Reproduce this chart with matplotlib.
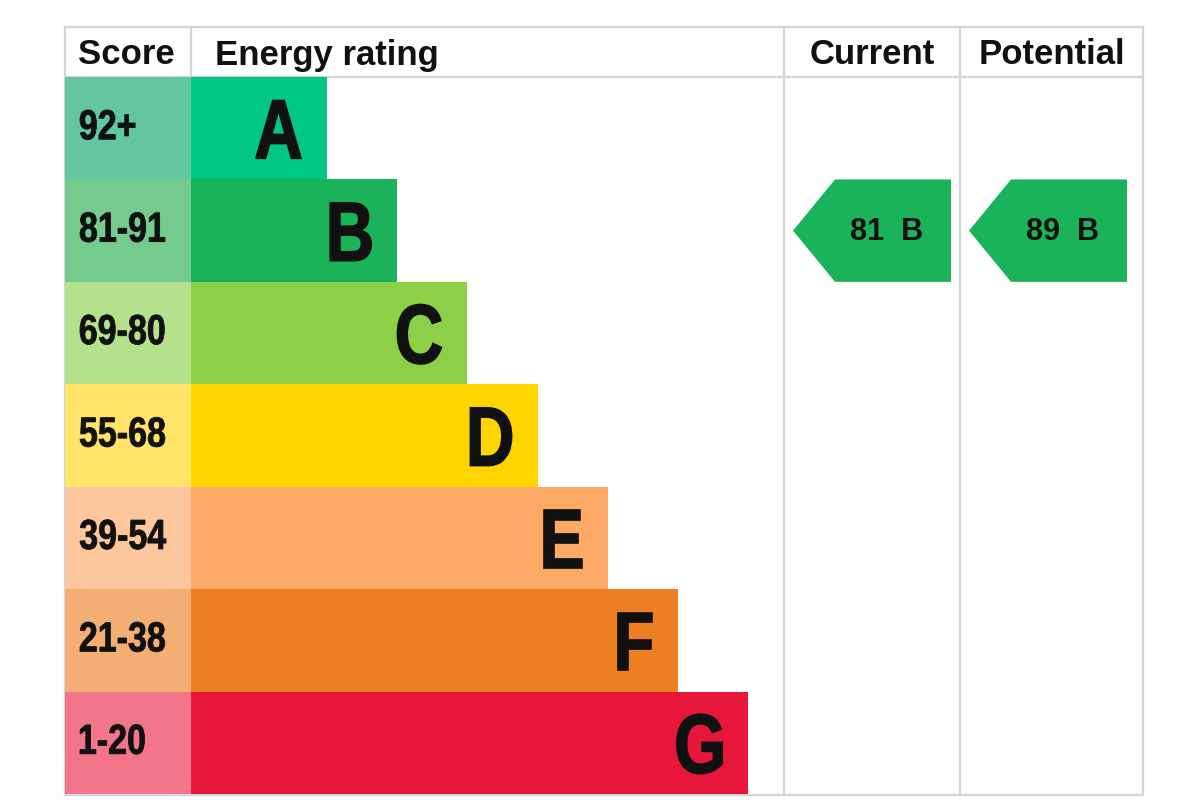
import matplotlib
matplotlib.use("Agg")
import matplotlib.pyplot as plt
from matplotlib.patches import Polygon, PathPatch
from matplotlib.textpath import TextPath
from matplotlib.font_manager import FontProperties
from matplotlib.transforms import Affine2D

# ---- data ----
bands = ["A", "B", "C", "D", "E", "F", "G"]
score_labels = ["92+", "81-91", "69-80", "55-68", "39-54", "21-38", "1-20"]
band_min = [92, 81, 69, 55, 39, 21, 1]
bar_colors = ["#00C781", "#1BB35A", "#8ECF48", "#FFD500", "#FCAA65", "#EE8023", "#E9163B"]
score_colors = ["#63C6A1", "#74CB8D", "#B5E08C", "#FFE467", "#FEC69C", "#F3AE74", "#F3758A"]
headers = ["Score", "Energy rating", "Current", "Potential"]
current_score = 81
potential_score = 89

# ---- layout (pixel coordinates) ----
W, H = 1200, 800
left_x, score_w = 65, 126
bar_x0 = left_x + score_w
bar_min_w, bar_step = 136, 70.2
cur_x0, pot_x0, right_x = 784, 960, 1143
top_y, head_y, bot_y = 27, 77, 794
row_h = (bot_y - head_y) / len(bands)
grid_c = "#D3D5D8"
txt_c = "#111111"

fig = plt.figure(figsize=(W / 100, H / 100), dpi=100)
ax = fig.add_axes([0, 0, 1, 1])
ax.set_xlim(0, W)
ax.set_ylim(H, 0)
ax.axis("off")

BOLD = FontProperties(family="Liberation Sans", weight="bold")


def ptext(x, yc, s, em, sx, ha="left", stroke=0.0):
    """Draw condensed text as a path; yc = vertical centre of cap height."""
    tp = TextPath((0, 0), s, size=em, prop=BOLD)
    ext = tp.get_extents()
    if ha == "left":
        dx = x - ext.x0 * sx
    elif ha == "right":
        dx = x - ext.x1 * sx
    else:
        dx = x - (ext.x0 + ext.x1) / 2 * sx
    base = yc + 0.716 * em / 2
    tr = Affine2D().scale(sx, -1).translate(dx, base)
    ax.add_patch(PathPatch(tr.transform_path(tp), facecolor=txt_c,
                           edgecolor=txt_c if stroke > 0 else "none",
                           linewidth=stroke, zorder=3))


centers = [head_y + row_h * (i + 0.5) for i in range(len(bands))]
bar_w = [bar_min_w + bar_step * i for i in range(len(bands))]

# grid lines
lw = 1.6
ax.plot([left_x, right_x], [top_y, top_y], color=grid_c, lw=lw, zorder=1)
ax.plot([left_x, right_x], [head_y, head_y], color=grid_c, lw=lw, zorder=1)
ax.plot([left_x, right_x], [bot_y + 1, bot_y + 1], color=grid_c, lw=lw, zorder=1)
ax.plot([left_x, left_x], [top_y, bot_y + 1], color=grid_c, lw=lw, zorder=1)
ax.plot([bar_x0, bar_x0], [top_y, head_y], color=grid_c, lw=lw, zorder=1)
for x in (cur_x0, pot_x0, right_x):
    ax.plot([x, x], [top_y, bot_y + 1], color=grid_c, lw=lw, zorder=1)

# score cells and bars
ax.barh(centers, [score_w] * len(bands), left=left_x, height=row_h,
        color=score_colors, edgecolor="none", zorder=2)
ax.barh(centers, bar_w, left=bar_x0, height=row_h,
        color=bar_colors, edgecolor="none", zorder=2)

for i, (lab, band) in enumerate(zip(score_labels, bands)):
    ptext(left_x + 15, centers[i] - 4, lab, 42, 0.81, ha="left", stroke=0.6)
    ptext(bar_x0 + bar_w[i] - 26, centers[i], band, 84, 0.80, ha="right", stroke=1.2)

# headers
hy = (top_y + head_y) / 2 + 3
hfont = dict(fontsize=25, fontweight="bold", family="Liberation Sans",
             color=txt_c, va="center")
ax.text(left_x + 13, hy, headers[0], ha="left", **hfont)
ax.text(bar_x0 + 24, hy, headers[1], ha="left", **hfont)
ax.text((cur_x0 + pot_x0) / 2, hy, headers[2], ha="center", **hfont)
ax.text((pot_x0 + right_x) / 2, hy, headers[3], ha="center", **hfont)


def band_index(score):
    for i, m in enumerate(band_min):
        if score >= m:
            return i
    return len(band_min) - 1


def arrow(x0, score):
    i = band_index(score)
    y0 = head_y + row_h * i
    y1 = y0 + row_h
    yc = (y0 + y1) / 2
    px = x0 + 9
    sx = px + 42
    rx = px + 158
    poly = Polygon([(rx, y0), (sx, y0), (px, yc), (sx, y1), (rx, y1)],
                   closed=True, facecolor=bar_colors[i], edgecolor="none", zorder=2)
    ax.add_patch(poly)
    ax.text((sx + rx) / 2 - 6, yc + 1, f"{score}  {bands[i]}", ha="center", va="center",
            fontsize=22, fontweight="bold", family="Liberation Sans",
            color=txt_c, zorder=3)


arrow(cur_x0, current_score)
arrow(pot_x0, potential_score)

fig.savefig("out.png", dpi=100, facecolor="white")
